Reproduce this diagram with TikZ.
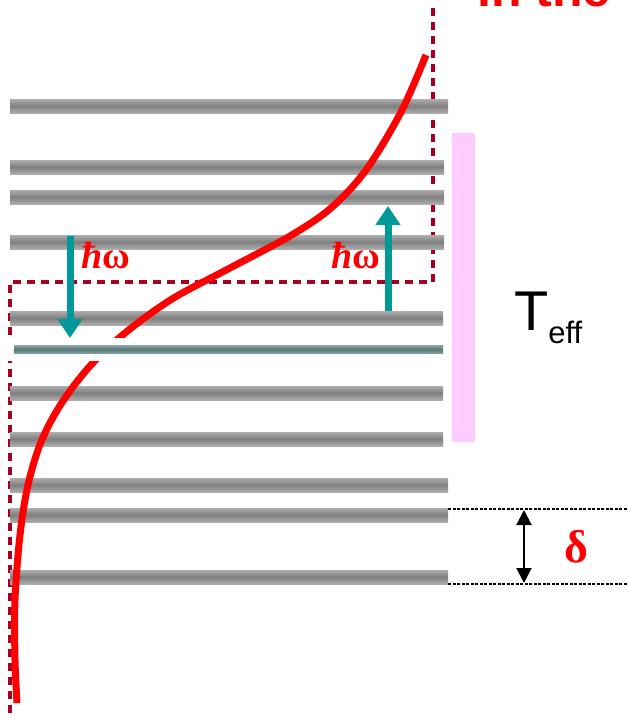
\documentclass[tikz,border=0pt]{standalone}
\usepackage{fontspec}
\setmainfont{Liberation Serif}
\newfontfamily\sansf{Liberation Sans}
\usetikzlibrary{arrows.meta}
\definecolor{darkred}{HTML}{A50021}
\definecolor{tealc}{HTML}{009999}
\definecolor{pinkbar}{HTML}{FFCCFF}
\definecolor{levdark}{HTML}{7F7F7F}
\definecolor{levmid}{HTML}{ADADAD}
\definecolor{levlight}{HTML}{E6E6E6}
\definecolor{gsdark}{HTML}{587676}
\definecolor{gsmid}{HTML}{7E9A9A}
\definecolor{gslight}{HTML}{B4C6C6}
\pgfdeclareverticalshading{levsh}{100bp}{color(0bp)=(levlight); color(25bp)=(levmid); color(50bp)=(levdark); color(75bp)=(levmid); color(100bp)=(levlight)}
\pgfdeclareverticalshading{gsh}{100bp}{color(0bp)=(gslight); color(30bp)=(gsmid); color(50bp)=(gsdark); color(70bp)=(gsmid); color(100bp)=(gslight)}
\tikzset{
  level/.style={shading=levsh},
  ground/.style={shading=gsh},
  frame/.style={darkred,line width=3.2pt,dash pattern=on 8pt off 6pt},
  fermi/.style={red,line width=7pt,line cap=butt},
  photon/.style={tealc,line width=7pt,-{Triangle[width=24pt,length=19pt]}},
  spacing/.style={black,line width=2pt,{Triangle[width=15pt,length=15pt]}-{Triangle[width=15pt,length=15pt]}},
  dotline/.style={black,line width=1.3pt,dash pattern=on 3pt off 1.5pt},
  lbl/.style={anchor=base west,inner sep=0pt}
}
\begin{document}
\begin{tikzpicture}[x=1pt,y=-1pt]
\useasboundingbox (0,0) rectangle (627,718);
\clip (0,0) rectangle (627,718);
% title fragment
\node[lbl,text=red,font=\sansf\bfseries\fontsize{50}{52}\selectfont] (title) at (477,6.5) {in the};
% pink bar
\fill[pinkbar] (452,133) rectangle (475,442);
% dashed frame
\coordinate (f1) at (433,8);
\coordinate (f2) at (433,282);
\coordinate (f3) at (10,282);
\coordinate (f4) at (10,718);
\draw[frame] (f1) -- (f2) -- (f3) -- (f4);
% levels
\foreach \yy/\xe in {106/448,167/444,197/444,242/444,318/443,393/443,439/443,485/448,515/448,577/448}
  \shade[level] (10,\yy-7) rectangle (\xe,\yy+7);
% Fermi curve
\draw[fermi] plot[smooth,tension=0.55] coordinates {(426,55) (401,112) (366,170) (331,208) (290,236) (230,268) (172,299) (125,333) (90,366) (61,404) (41,442) (28,485) (20,535) (15,600) (15,660) (17,703)};
% halo and ground level
\fill[white] (0,338) rectangle (447,361);
\shade[ground] (14,345.5) rectangle (443,353.5);
% photon arrows
\coordinate (dnS) at (70,236);
\coordinate (dnE) at (70,338);
\coordinate (upS) at (388,311);
\coordinate (upE) at (388,206);
\draw[photon] (dnS) -- (dnE);
\draw[photon] (upS) -- (upE);
\node[lbl,text=red,font=\bfseries\fontsize{38}{40}\selectfont] (hw1) at (81,268) {\textit{ħ}ω};
\node[lbl,text=red,font=\bfseries\fontsize{38}{40}\selectfont] (hw2) at (331,268) {\textit{ħ}ω};
% T_eff
\node[lbl,font=\sansf\fontsize{56}{60}\selectfont] (teff) at (514,330) {T\raisebox{-13pt}{\fontsize{31}{33}\selectfont eff}};
% delta spacing
\coordinate (d1a) at (448,509);
\coordinate (d1b) at (627,509);
\coordinate (d2a) at (448,584);
\coordinate (d2b) at (627,584);
\draw[dotline] (d1a) -- (d1b);
\draw[dotline] (d2a) -- (d2b);
\coordinate (dA) at (524,510);
\coordinate (dB) at (524,583);
\draw[spacing] (dA) -- (dB);
\node[anchor=base,inner sep=0pt,text=red,font=\bfseries\fontsize{46}{48}\selectfont] (delta) at (576,562) {δ};
\end{tikzpicture}
\end{document}
